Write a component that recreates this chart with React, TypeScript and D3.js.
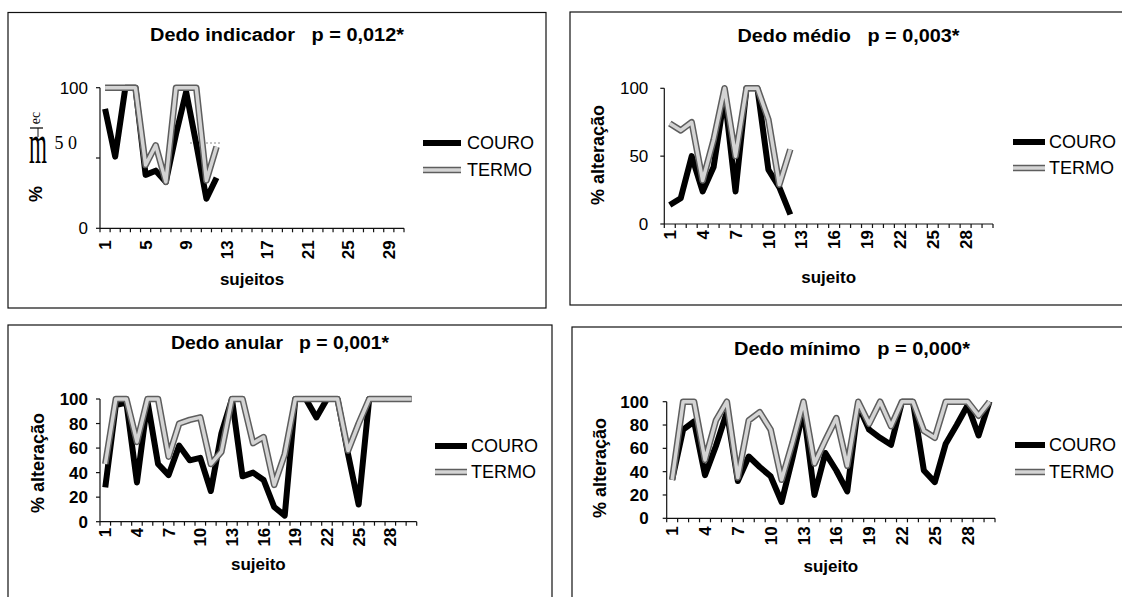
import React from "react";
import * as d3 from "d3";

// sujeitos (categorias do eixo x)
const sujeitos = [1, 2, 3, 4, 5, 6, 7, 8, 9, 10, 11, 12, 13, 14, 15, 16, 17, 18, 19, 20, 21, 22, 23, 24, 25, 26, 27, 28, 29, 30];

// Dedo indicador
const indicadorCouro = [85, 51, 100, 100, 38, 41, 33, 67, 97, 60, 21, 36];
const indicadorTermo = [100, 100, 100, 100, 45, 59, 33, 100, 100, 100, 34, 58];

// Dedo medio
const medioCouro = [14, 19, 50, 24, 42, 95, 24, 100, 100, 40, 27, 7];
const medioTermo = [74, 69, 75, 32, 62, 100, 50, 100, 100, 77, 29, 55];

// Dedo anular
const anularCouro = [28, 95, 97, 32, 98, 47, 38, 62, 50, 52, 25, 72, 100, 37, 40, 34, 12, 5, 100, 100, 85, 100, 100, 55, 14, 100, 100, 100, 100, 100];
const anularTermo = [47, 100, 100, 65, 100, 100, 53, 80, 83, 85, 47, 57, 100, 100, 64, 69, 30, 55, 100, 100, 100, 100, 100, 58, 80, 100, 100, 100, 100, 100];

// Dedo minimo
const minimoCouro = [33, 76, 83, 37, 62, 91, 32, 53, 44, 36, 14, 52, 93, 20, 56, 41, 23, 97, 76, 69, 63, 100, 100, 41, 31, 64, 80, 97, 71, 100];
const minimoTermo = [33, 100, 100, 50, 84, 100, 35, 84, 91, 76, 33, 65, 100, 47, 67, 86, 45, 100, 81, 100, 79, 100, 100, 75, 69, 100, 100, 100, 88, 100];

// rotulos dos eixos
const ticksIndicador = [1, 5, 9, 13, 17, 21, 25, 29];
const ticksSujeito = [1, 4, 7, 10, 13, 16, 19, 22, 25, 28];
const yTicks50 = [0, 50, 100];
const yTicks20 = [0, 20, 40, 60, 80, 100];
const nomesSeries = ["COURO", "TERMO"];

const FONT = "'Liberation Sans', Arial, sans-serif";
const SERIF = "'Liberation Serif', 'Times New Roman', serif";

const panels = [
  {
    title: "Dedo indicador   p = 0,012*", titleX: 277, titleY: 41, titleW: 254,
    couro: indicadorCouro, termo: indicadorTermo, xTicks: ticksIndicador, yTicks: yTicks50,
    box: [8, 12.5, 538, 295.5], x0: 100, x1: 404, yTop: 87.7, yBot: 228.3,
    xTitle: "sujeitos", xTitleY: 285, xGap: 12, yGap: 12, yBold: false,
    yTitle: null, legend: [423, 461, 143, 170, 467], odd: true,
  },
  {
    title: "Dedo médio   p = 0,003*", titleX: 848.5, titleY: 42, titleW: 222,
    couro: medioCouro, termo: medioTermo, xTicks: ticksSujeito, yTicks: yTicks50,
    box: [570, 12, 562, 293], x0: 664.3, x1: 993, yTop: 88.3, yBot: 224,
    xTitle: "sujeito", xTitleY: 283, xGap: 6, yGap: 16, yBold: false,
    yTitle: [604, 155], legend: [1013, 1045, 142, 168, 1049], odd: false,
  },
  {
    title: "Dedo anular   p = 0,001*", titleX: 280, titleY: 349, titleW: 218,
    couro: anularCouro, termo: anularTermo, xTicks: ticksSujeito, yTicks: yTicks20,
    box: [8, 325, 544, 290], x0: 100, x1: 416.7, yTop: 399, yBot: 521.7,
    xTitle: "sujeito", xTitleY: 570, xGap: 6, yGap: 12, yBold: true,
    yTitle: [44, 463], legend: [435, 467, 446, 472, 471], odd: false,
  },
  {
    title: "Dedo mínimo   p = 0,000*", titleX: 852, titleY: 355, titleW: 236,
    couro: minimoCouro, termo: minimoTermo, xTicks: ticksSujeito, yTicks: yTicks20,
    box: [572, 327, 562, 290], x0: 666.7, x1: 995, yTop: 401.7, yBot: 518.3,
    xTitle: "sujeito", xTitleY: 572, xGap: 8, yGap: 18, yBold: true,
    yTitle: [606, 468], legend: [1015, 1045, 445, 472, 1049], odd: false,
  },
];

function Panel({ p }: { p: any }) {
  const x = d3.scaleBand<number>().domain(sujeitos).range([p.x0, p.x1]);
  const y = d3.scaleLinear().domain([0, 100]).range([p.yBot, p.yTop]);
  const cx = (s: number) => (x(s) as number) + x.bandwidth() / 2;
  const line = d3.line<number>().x((d, i) => cx(sujeitos[i])).y((d) => y(d));
  const bounds = sujeitos.map((s) => x(s) as number).concat([p.x1]);
  const [bx, by, bw, bh] = p.box;
  const [l1, l2, ly1, ly2, lt] = p.legend;

  return (
    <g>
      <rect x={bx} y={by} width={bw} height={bh} fill="white" stroke="#111" strokeWidth={1.2} />
      <text x={p.titleX} y={p.titleY} textAnchor="middle" fontFamily={FONT} fontWeight="bold" fontSize={18}
        textLength={p.titleW} lengthAdjust="spacingAndGlyphs" style={{ whiteSpace: "pre" }}>{p.title}</text>

      {/* eixos */}
      <line x1={p.x0} x2={p.x0} y1={p.yTop} y2={p.yBot} stroke="#111" strokeWidth={1.2} />
      <line x1={p.x0} x2={p.x1} y1={p.yBot} y2={p.yBot} stroke="#111" strokeWidth={1.2} />
      {bounds.map((b, i) => (
        <line key={"xt" + i} x1={b} x2={b} y1={p.yBot} y2={p.yBot + 4} stroke="#111" strokeWidth={1.2} />
      ))}
      {p.yTicks.map((t: number) => (
        <g key={"yt" + t}>
          <line x1={p.x0 - 4} x2={p.x0} y1={y(t)} y2={y(t)} stroke="#111" strokeWidth={1.2} />
          {p.odd && t === 50 ? (
            <text x={p.x0 - 23} y={y(t) - 9} textAnchor="end" fontFamily={SERIF} fontSize={18} style={{ whiteSpace: "pre" }}>5 0</text>
          ) : (
            <text x={p.x0 - p.yGap} y={y(t)} dy="0.36em" textAnchor="end" fontFamily={FONT} fontSize={17}
              fontWeight={p.yBold ? "bold" : "normal"}>{t}</text>
          )}
        </g>
      ))}
      {p.xTicks.map((t: number) => (
        <text key={"xl" + t} transform={`translate(${cx(t)},${p.yBot + p.xGap}) rotate(-90)`} dy="0.36em"
          textAnchor="end" fontFamily={FONT} fontSize={17} fontWeight="bold">{t}</text>
      ))}
      <text x={(p.x0 + p.x1) / 2} y={p.xTitleY} textAnchor="middle" fontFamily={FONT} fontSize={17} fontWeight="bold">{p.xTitle}</text>

      {p.yTitle ? (
        <text transform={`translate(${p.yTitle[0]},${p.yTitle[1]}) rotate(-90)`} textAnchor="middle"
          fontFamily={FONT} fontSize={18} fontWeight="bold">% alteração</text>
      ) : (
        <g>
          <text transform="translate(42,194) rotate(-90)" textAnchor="middle" fontFamily={FONT} fontSize={18} fontWeight="bold">%</text>
          <text transform="translate(29,163) scale(0.96,2.4)" fontFamily={SERIF} fontSize={24}>m</text>
          <line x1={30} x2={43} y1={128} y2={128} stroke="#111" strokeWidth={1.3} />
          <line x1={38} x2={38} y1={128} y2={137} stroke="#111" strokeWidth={1} />
          <text transform="translate(40,118) rotate(-90)" textAnchor="middle" fontFamily={SERIF} fontSize={14}>ec</text>
          <line x1={190} x2={220} y1={143} y2={143} stroke="#888" strokeWidth={1} strokeDasharray="2 2" />
        </g>
      )}

      {/* series */}
      <path d={line(p.couro) as string} fill="none" stroke="#000" strokeWidth={6} strokeLinejoin="round" />
      <path d={line(p.termo) as string} fill="none" stroke="#5e5e5e" strokeWidth={6.5} strokeLinejoin="round" />
      <path d={line(p.termo) as string} fill="none" stroke="#d4d4d4" strokeWidth={3.5} strokeLinejoin="round" />

      {/* legenda */}
      <line x1={l1} x2={l2} y1={ly1} y2={ly1} stroke="#000" strokeWidth={6} />
      <line x1={l1} x2={l2} y1={ly2} y2={ly2} stroke="#5e5e5e" strokeWidth={6.5} />
      <line x1={l1} x2={l2} y1={ly2} y2={ly2} stroke="#d4d4d4" strokeWidth={3.5} />
      <text x={lt} y={ly1} dy="0.36em" fontFamily={FONT} fontSize={18}>{nomesSeries[0]}</text>
      <text x={lt} y={ly2} dy="0.36em" fontFamily={FONT} fontSize={18}>{nomesSeries[1]}</text>
    </g>
  );
}

export default function App() {
  return (
    <svg width={1122} height={597} style={{ position: "absolute", left: 0, top: 0, background: "white" }}>
      <rect x={0} y={0} width={1122} height={597} fill="white" />
      {panels.map((p, i) => (
        <Panel key={i} p={p} />
      ))}
    </svg>
  );
}
